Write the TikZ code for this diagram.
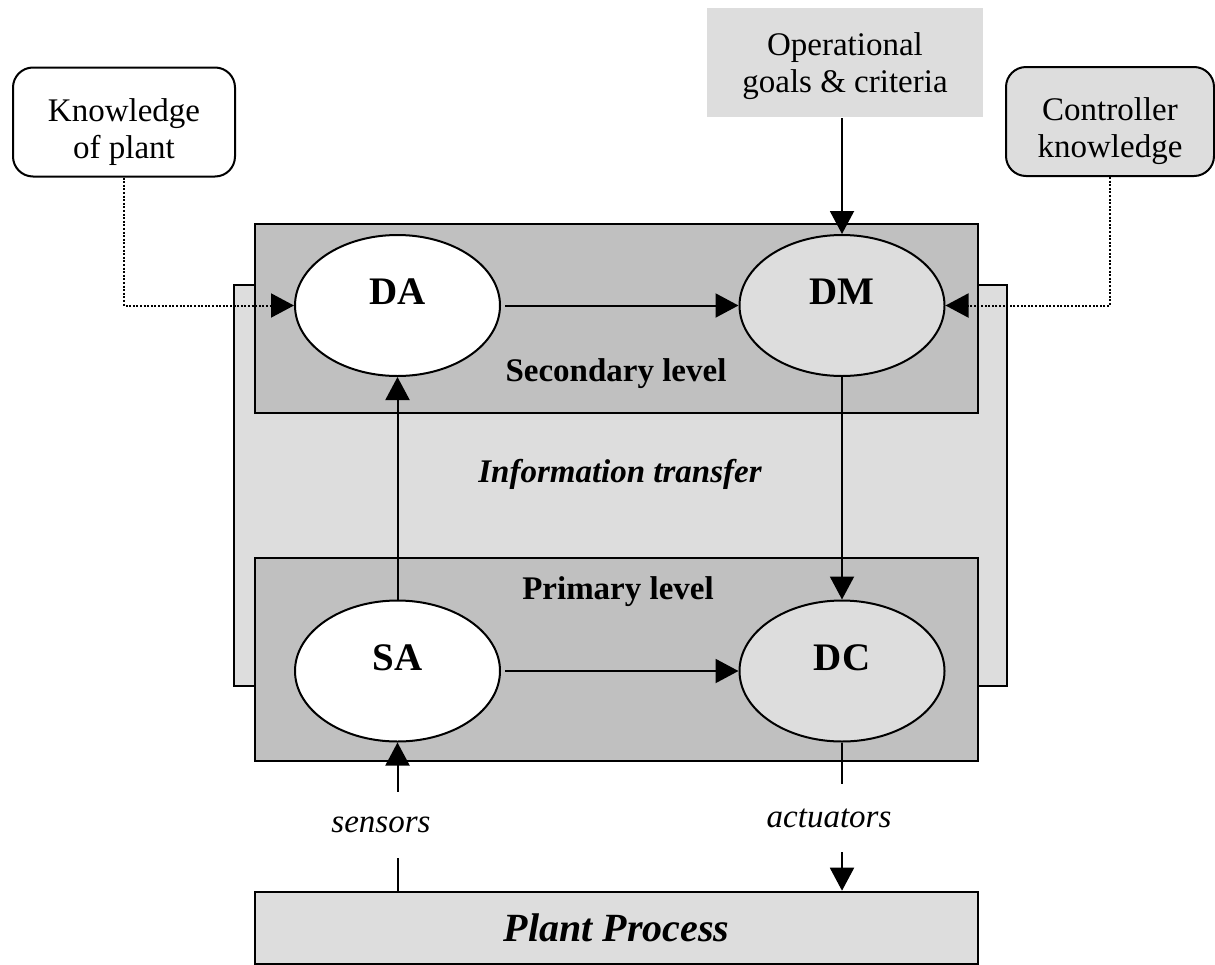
\documentclass[tikz,border=0pt]{standalone}
\usepackage{fontspec}
\setmainfont{Liberation Serif}
\usetikzlibrary{arrows.meta,shapes.geometric}
\definecolor{lightgr}{RGB}{221,221,221}
\definecolor{midgr}{RGB}{192,192,192}

\begin{document}
\begin{tikzpicture}[x=0.5pt, y=-0.5pt,
		frame/.style={draw, line width=1.3pt},
		wire/.style={line width=1pt},
		flow/.style={wire, -{Triangle[length=11.5pt, width=12pt]}},
		hint/.style={flow, dash pattern=on 1pt off 0.8pt},
		agent/.style={ellipse, draw, line width=1pt, inner sep=0pt,
			minimum width=102.5pt, minimum height=70.5pt,
			text height=13pt, text depth=14pt,
			font=\fontsize{19.5}{20}\selectfont\bfseries},
		source/.style={draw, line width=1pt, rounded corners=10pt, align=center,
			minimum height=54.5pt, text height=36pt, text depth=0pt,
			font=\fontsize{16.5}{18.5}\selectfont},
		level/.style={font=\fontsize{16.5}{18.5}\selectfont\bfseries},
		signal/.style={inner sep=0pt, minimum height=33pt,
			font=\fontsize{16.5}{18.5}\selectfont\itshape}]

		\useasboundingbox (0,0) rectangle (1215,964);

		% information transfer and the two levels
		\draw[frame, fill=lightgr] (234,285) rectangle (1007,686);
		\draw[frame, fill=midgr] (255,224) rectangle (978,413);
		\draw[frame, fill=midgr] (255,558) rectangle (978,761);

		\node[level] (sec) at (616,374) {Secondary level};
		\node[level] (pri) at (618,592) {Primary level};
		\node[font=\fontsize{16.5}{18.5}\selectfont\bfseries\itshape] (info) at (620,474) {Information transfer};

		\node[agent, fill=white] (DA) at (397.5,305.5) {DA};
		\node[agent, fill=lightgr] (DM) at (842,305.5) {DM};
		\node[agent, fill=white] (SA) at (397.5,671) {SA};
		\node[agent, fill=lightgr] (DC) at (842,671) {DC};

		\node[source, minimum width=111pt] (know) at (124,122) {Knowledge\\of plant};
		\node[source, fill=lightgr, minimum width=104pt] (ctrl) at (1110,121.5) {Controller\\knowledge};
		\node[source, draw=none, rounded corners=0pt, fill=lightgr, minimum width=138pt,
			text height={}, text depth=0pt] (goal) at (845,62.5) {Operational\\goals \& criteria};

		\node[frame, fill=lightgr, minimum width=361.5pt, minimum height=36pt,
			font=\fontsize{20}{22}\selectfont\bfseries\itshape] (plant) at (616.5,928) {Plant Process};

		\node[signal] (sens) at (381,825) {sensors};
		\node[signal, minimum height=34pt] (act) at (829,818) {actuators};

		% connectors
		\draw[flow] (DM.north |- goal.south) -- (DM.north);
		\draw[flow, shorten <=2pt] (DA.east) -- (DM.west);
		\draw[flow, shorten <=2pt] (SA.east) -- (DC.west);
		\draw[flow] (SA.north) -- (DA.south);
		\draw[flow] (DM.south) -- (DC.north);
		\draw[hint] (know.south) |- (DA.west);
		\draw[hint] (ctrl.south) |- (DM.east);

		\draw[wire] (plant.north -| SA.south) -- (sens.south -| SA.south);
		\draw[flow] (sens.north -| SA.south) -- (SA.south);
		\draw[wire] (DC.south) -- (act.north -| DC.south);
		\draw[flow] (act.south -| DC.south) -- (plant.north -| DC.south);
	\end{tikzpicture}
\end{document}
